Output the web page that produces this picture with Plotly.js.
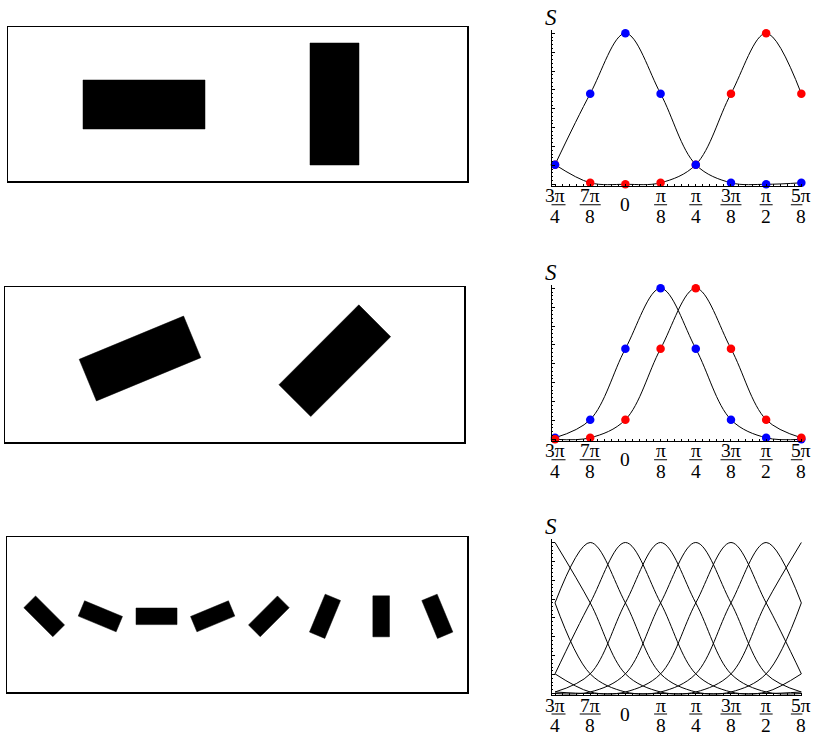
<!DOCTYPE html>
<html><head><meta charset="utf-8">
<script src="https://cdn.plot.ly/plotly-3.0.1.min.js"></script>
<style>html,body{margin:0;padding:0;background:#fff}#chart{width:817px;height:738px}</style>
</head><body><div id="chart"></div>
<script>
// ---------- data ----------
const tickLabels = ["3π/4", "7π/8", "0", "π/8", "π/4", "3π/8", "π/2", "5π/8"];
const stimIndex = [0, 1, 2, 3, 4, 5, 6, 7];

// top row: preferred orientations 0 and π/2
const topOrient = [0, 90];
const topBlue = [0.13, 0.60, 1.00, 0.60, 0.13, 0.01, 0.00, 0.01];
const topRed  = [0.13, 0.01, 0.00, 0.01, 0.13, 0.60, 1.00, 0.60];

// middle row: preferred orientations π/8 and π/4
const midOrient = [22.5, 45];
const midBlue = [0.01, 0.13, 0.60, 1.00, 0.60, 0.13, 0.01, 0.00];
const midRed  = [0.00, 0.01, 0.13, 0.60, 1.00, 0.60, 0.13, 0.01];

// bottom row: eight orientations
const bottomOrient = [-45, -22.5, 0, 22.5, 45, 67.5, 90, 112.5];
const curve0 = [1.00, 0.60, 0.13, 0.01, 0.00, 0.01, 0.13, 0.60];
const curve1 = [0.60, 1.00, 0.60, 0.13, 0.01, 0.00, 0.01, 0.13];
const curve2 = [0.13, 0.60, 1.00, 0.60, 0.13, 0.01, 0.00, 0.01];
const curve3 = [0.01, 0.13, 0.60, 1.00, 0.60, 0.13, 0.01, 0.00];
const curve4 = [0.00, 0.01, 0.13, 0.60, 1.00, 0.60, 0.13, 0.01];
const curve5 = [0.01, 0.00, 0.01, 0.13, 0.60, 1.00, 0.60, 0.13];
const curve6 = [0.13, 0.01, 0.00, 0.01, 0.13, 0.60, 1.00, 0.60];
const curve7 = [0.60, 0.13, 0.01, 0.00, 0.01, 0.13, 0.60, 1.00];
const bottomCurves = [curve0, curve1, curve2, curve3, curve4, curve5, curve6, curve7];

// ---------- layout helpers ----------
const W = 817, H = 738;
const px = x => x / W;
const py = y => 1 - y / H;
const SERIF = "Liberation Serif, Times New Roman, serif";
const BLUE = "#0000ff", RED = "#ff0000";
const LABEL_SIZE = 19.5;

// left panels (frames in pixels)
const leftPanels = [
  {ax: "", box: [8, 27, 467, 181]},
  {ax: "3", box: [5, 287, 464, 442]},
  {ax: "5", box: [7, 537, 467, 692]}
];
// right panels: pixel row of S = 0
const rightPanels = [
  {ax: "2", zero: 184.3},
  {ax: "4", zero: 439.3},
  {ax: "6", zero: 693.5}
];
const UNIT = 151;       // px per S unit
const XL = 551.5, XR = 802.4, XMIN = -0.1, XMAX = 7.03;
const XSCALE = (XR - XL) / (XMAX - XMIN);

const layout = {
  width: W, height: H,
  margin: {l: 0, r: 0, t: 0, b: 0},
  paper_bgcolor: "#fff", plot_bgcolor: "rgba(0,0,0,0)",
  showlegend: false,
  annotations: [], shapes: []
};

leftPanels.forEach(p => {
  const [x0, y0, x1, y1] = p.box;
  const common = {showline: true, mirror: true, linecolor: "black", linewidth: 1.5,
    showgrid: false, zeroline: false, showticklabels: false, ticks: "", fixedrange: true};
  layout["xaxis" + p.ax] = Object.assign({}, common, {domain: [px(x0), px(x1)], range: [0, x1 - x0], anchor: "y" + p.ax});
  layout["yaxis" + p.ax] = Object.assign({}, common, {domain: [py(y1), py(y0)], range: [0, y1 - y0], anchor: "x" + p.ax});
});

rightPanels.forEach(p => {
  const yb = p.zero + 0.01 * UNIT, yt = p.zero - 1.025 * UNIT;
  layout["xaxis" + p.ax] = {
    domain: [px(XL), px(XR)], range: [XMIN, XMAX], anchor: "y" + p.ax,
    showline: true, linecolor: "black", linewidth: 1, showgrid: false, zeroline: false,
    tickmode: "array", tickvals: stimIndex, ticktext: stimIndex.map(() => ""),
    ticks: "inside", ticklen: 4, tickwidth: 1, tickcolor: "black", showticklabels: false,
    minor: {tickmode: "linear", tick0: 0, dtick: 0.2, ticks: "inside", ticklen: 2, tickcolor: "black", showgrid: false},
    fixedrange: true
  };
  layout["yaxis" + p.ax] = {
    domain: [py(yb), py(yt)], range: [-0.01, 1.025], anchor: "x" + p.ax,
    showline: true, linecolor: "black", linewidth: 1, showgrid: false, zeroline: false,
    tickmode: "linear", tick0: 0, dtick: 0.125,
    ticks: "inside", ticklen: 3, tickwidth: 1, tickcolor: "black", showticklabels: false,
    minor: {tickmode: "linear", tick0: 0, dtick: 0.025, ticks: "inside", ticklen: 1.5, tickcolor: "black", showgrid: false},
    fixedrange: true
  };
  // axis label S
  layout.annotations.push({
    xref: "paper", yref: "paper", x: px(551), y: py(yt - 12), xanchor: "center", yanchor: "middle",
    text: "<i>S</i>", showarrow: false, font: {family: SERIF, size: 23, color: "black"}
  });
  // fraction tick labels
  const bar = p.zero + 20.5;
  tickLabels.forEach((lab, i) => {
    const parts = lab.split("/");
    const f = {family: SERIF, size: LABEL_SIZE, color: "black"};
    if (parts.length === 1) {
      layout.annotations.push({
        xref: "x" + p.ax, yref: "paper", x: stimIndex[i], y: py(bar), xanchor: "center", yanchor: "middle",
        text: parts[0], showarrow: false, font: f
      });
    } else {
      layout.annotations.push({
        xref: "x" + p.ax, yref: "paper", x: stimIndex[i], y: py(bar + 3.6), xanchor: "center", yanchor: "bottom",
        text: parts[0], showarrow: false, font: f
      });
      layout.annotations.push({
        xref: "x" + p.ax, yref: "paper", x: stimIndex[i], y: py(bar - 1.2), xanchor: "center", yanchor: "top",
        text: parts[1], showarrow: false, font: f
      });
      const hw = (parts[0].length > 1 ? 10.5 : 6.5) / XSCALE;
      layout.shapes.push({
        type: "line", xref: "x" + p.ax, yref: "paper",
        x0: stimIndex[i] - hw, x1: stimIndex[i] + hw, y0: py(bar), y1: py(bar),
        line: {color: "black", width: 1.1}
      });
    }
  });
});

// ---------- traces ----------
const traces = [];
function rectTrace(ax, cx, cy, angleDeg, L, Wd) {
  const t = angleDeg * Math.PI / 180;
  const ux = Math.cos(t), uy = Math.sin(t), vx = -Math.sin(t), vy = Math.cos(t);
  const xs = [], ys = [];
  [[1, 1], [-1, 1], [-1, -1], [1, -1], [1, 1]].forEach(([a, b]) => {
    xs.push(cx + a * L / 2 * ux + b * Wd / 2 * vx);
    ys.push(cy + a * L / 2 * uy + b * Wd / 2 * vy);
  });
  return {x: xs, y: ys, xaxis: "x" + ax, yaxis: "y" + ax, mode: "lines", fill: "toself",
    fillcolor: "black", line: {color: "black", width: 0.5}, hoverinfo: "skip"};
}
// top-left
const topCenters = [[136, 76.5], [326.5, 77]];
topOrient.forEach((a, i) => traces.push(rectTrace("", topCenters[i][0], topCenters[i][1], a, 122, 49)));
// middle-left
const midCenters = [[135, 83.5], [329.8, 81.3]];
midOrient.forEach((a, i) => traces.push(rectTrace("3", midCenters[i][0], midCenters[i][1], a, 113, 45)));
// bottom-left
bottomOrient.forEach((a, i) => traces.push(rectTrace("5", 37.2 + 56.16 * i, 75.7, a, 41, 16.6)));

function curve(ax, ys) {
  return {x: stimIndex, y: ys, xaxis: "x" + ax, yaxis: "y" + ax, mode: "lines",
    line: {color: "black", width: 1, shape: "spline"}, hoverinfo: "skip"};
}
function dots(ax, ys, color) {
  return {x: stimIndex, y: ys, xaxis: "x" + ax, yaxis: "y" + ax, mode: "markers",
    marker: {color: color, size: 8.5, line: {width: 0}}, cliponaxis: false, hoverinfo: "skip"};
}
// top-right
traces.push(curve("2", topRed), curve("2", topBlue), dots("2", topRed, RED), dots("2", topBlue, BLUE));
// middle-right
traces.push(curve("4", midBlue), curve("4", midRed), dots("4", midBlue, BLUE), dots("4", midRed, RED));
// bottom-right
bottomCurves.forEach(c => traces.push(curve("6", c)));

Plotly.newPlot("chart", traces, layout, {staticPlot: true, displayModeBar: false});
</script>
</body></html>
